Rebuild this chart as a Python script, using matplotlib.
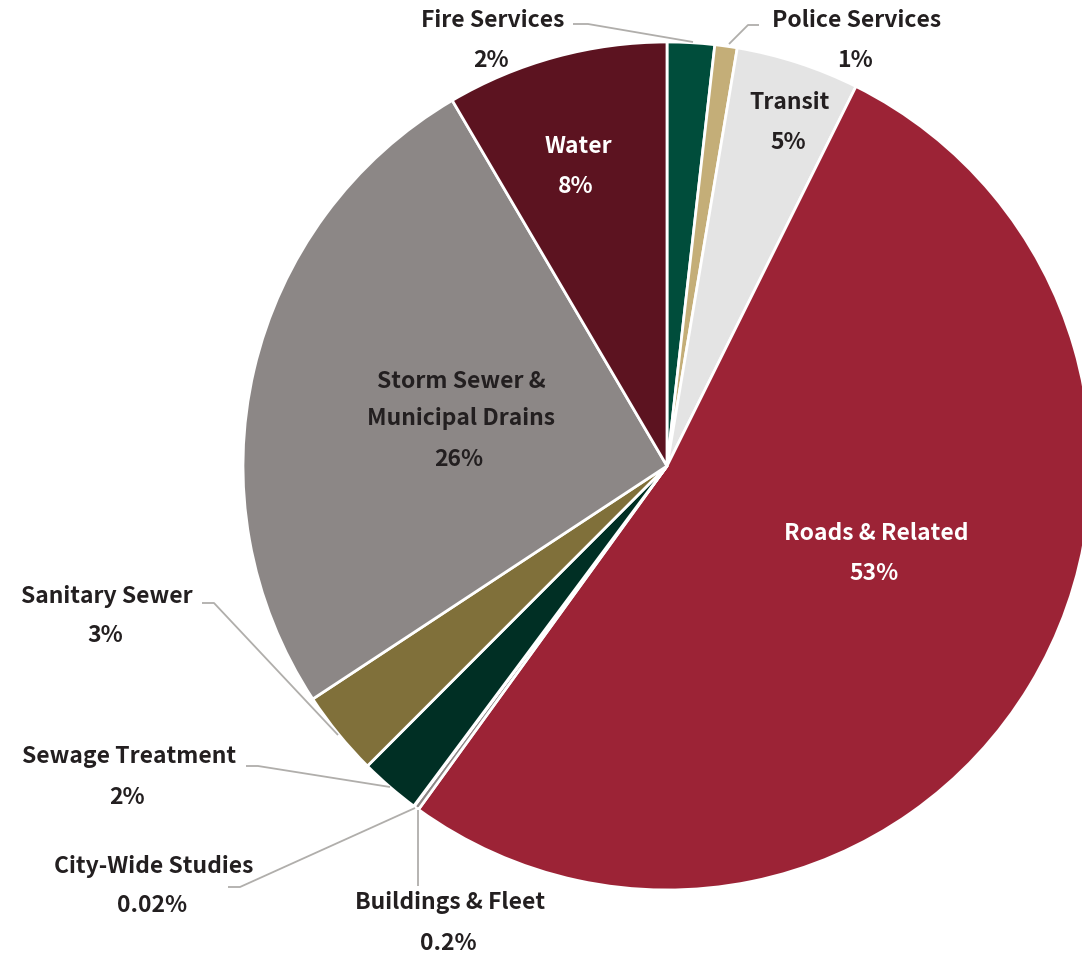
import matplotlib
matplotlib.use('Agg')
import matplotlib.pyplot as plt

# capital budget share by service area, clockwise from 12 o'clock
services = ['Fire Services', 'Police Services', 'Transit', 'Roads & Related',
            'Buildings & Fleet', 'City-Wide Studies', 'Sewage Treatment',
            'Sanitary Sewer', 'Storm Sewer &\nMunicipal Drains', 'Water']
shares = [1.8, 0.85, 4.7, 52.6, 0.2, 0.02, 2.3, 3.25, 25.8, 8.45]
colors = ['#004d3b', '#c4ae78', '#e4e4e4', '#9c2336', '#8c8786',
          '#8c8786', '#002f24', '#80703a', '#8c8786', '#5c1320']

W, H = 1082, 955
CX, CY, R = 667, 466, 424   # pie centre / radius in pixels (y from top)
DARK = '#231f20'
LEAD = '#b0aeab'

plt.rcParams['font.family'] = ['Noto Sans CJK JP', 'DejaVu Sans']


def pct(v):
    if v >= 0.5:
        return f'{round(v)}%'
    return f'{v:g}%'


def Y(y):
    return H - y


fig = plt.figure(figsize=(W / 100, H / 100), dpi=100)
ax = fig.add_axes([0, 0, 1, 1])

ax.pie(shares, colors=colors, startangle=90, counterclock=False,
       center=(CX, Y(CY)), radius=R,
       wedgeprops=dict(edgecolor='white', linewidth=2.0))
ax.set_xlim(0, W)
ax.set_ylim(0, H)
ax.set_aspect('equal')
ax.axis('off')

fs = 16.5
# labels inside the wedges: (index, x, y of first line, colour)
inside = [
    (2, 790, 103, DARK),
    (9, 578, 147, 'white'),
    (8, 461, 380, DARK),
    (3, 876, 533, 'white'),
]
for i, x, y, c in inside:
    name = services[i]
    nlines = name.count('\n') + 1
    ax.text(x, Y(y + 20 * (nlines - 1)), name, ha='center', va='center',
            color=c, fontsize=fs, fontweight='bold', linespacing=1.8)
    ax.text(x - 2, Y(y + 40 * nlines), pct(shares[i]), ha='center', va='center',
            color=c, fontsize=fs, fontweight='bold')

# outside labels with leader lines: (index, text x, text y, leader points)
outside = [
    (0, 493, 21, [(573, 24), (588, 24), (693, 42)]),
    (1, 857, 21, [(759, 25), (748, 25), (729, 44)]),
    (7, 107, 596, [(202, 603), (214, 603), (338, 735)]),
    (6, 129, 757, [(246, 766), (258, 766), (390, 787)]),
    (5, 154, 866, [(228, 887), (240, 887), (415, 808)]),
    (4, 450, 903, [(418, 886), (418, 810)]),
]
for i, x, y, pts in outside:
    ax.text(x, Y(y), services[i], ha='center', va='center', color=DARK,
            fontsize=fs, fontweight='bold')
    ax.text(x - 2, Y(y + 40), pct(shares[i]), ha='center', va='center',
            color=DARK, fontsize=fs, fontweight='bold')
    ax.plot([p[0] for p in pts], [Y(p[1]) for p in pts], color=LEAD, lw=1.3,
            solid_capstyle='butt')

fig.savefig('out.png', dpi=100)
